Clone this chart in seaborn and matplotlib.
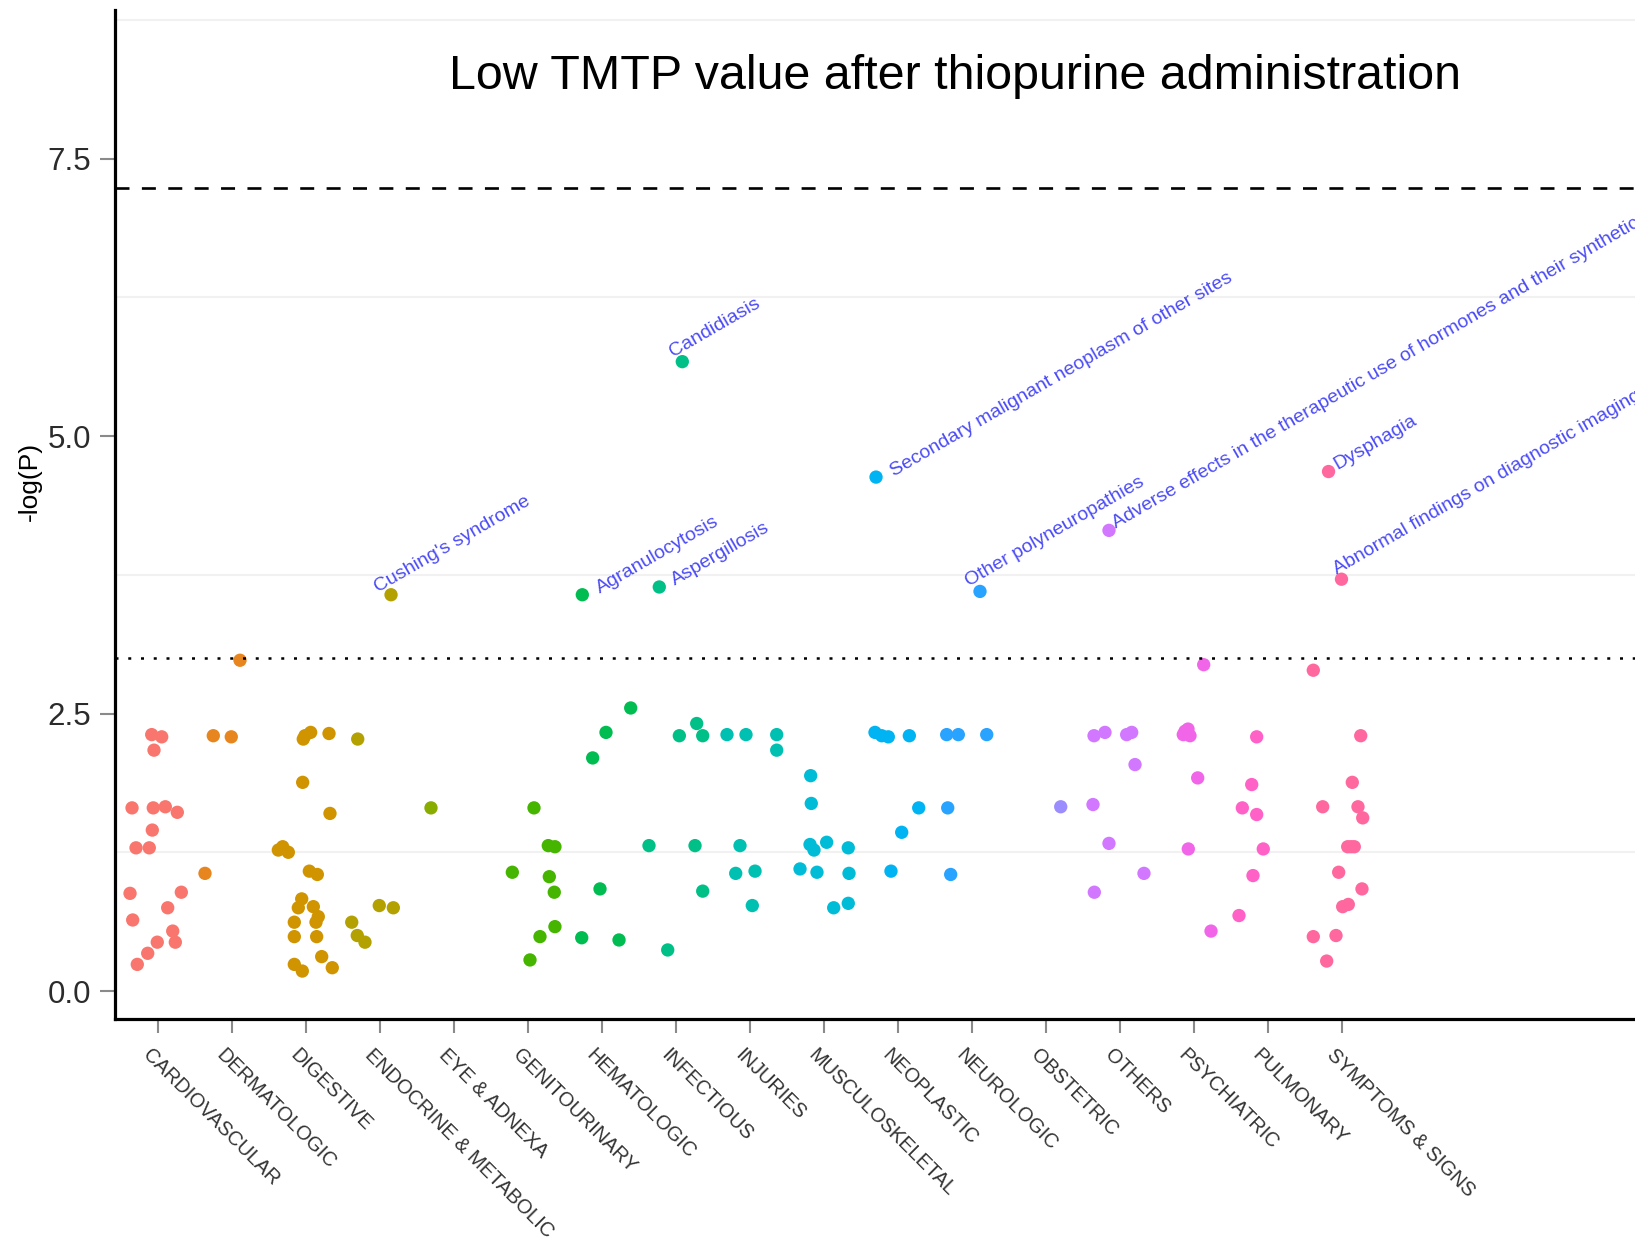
import numpy as np
import pandas as pd
import matplotlib
matplotlib.use("Agg")
import matplotlib.pyplot as plt
import matplotlib.transforms as mtransforms
from matplotlib import font_manager
import seaborn as sns

# ---------------- data ----------------
categories = ["CARDIOVASCULAR", "DERMATOLOGIC", "DIGESTIVE", "ENDOCRINE & METABOLIC",
              "EYE & ADNEXA", "GENITOURINARY", "HEMATOLOGIC", "INFECTIOUS", "INJURIES",
              "MUSCULOSKELETAL", "NEOPLASTIC", "NEUROLOGIC", "OBSTETRIC", "OTHERS",
              "PSYCHIATRIC", "PULMONARY", "SYMPTOMS & SIGNS"]

# position of each phenotype within its category group (category units) and -log(P)
cardio_pos = [-0.089, 0.046, -0.058, -0.355, -0.068, 0.095, 0.257, -0.081, -0.301, -0.122,
              -0.382, 0.311, 0.127, -0.346, 0.195, 0.230, -0.014, -0.143, -0.284]
cardio_val = [2.31, 2.29, 2.17, 1.65, 1.65, 1.66, 1.61, 1.45, 1.29, 1.29,
              0.88, 0.89, 0.75, 0.64, 0.54, 0.44, 0.44, 0.34, 0.24]
derm_pos = [0.104, -0.257, -0.014, -0.369]
derm_val = [2.98, 2.30, 2.29, 1.06]
digest_pos = [-0.041, -0.018, 0.059, 0.307, -0.049, 0.320, -0.378, -0.319, -0.243, 0.041,
              0.149, -0.062, -0.108, 0.095, 0.162, -0.162, 0.131, -0.162, 0.140, 0.208,
              -0.162, -0.054, 0.351]
digest_val = [2.27, 2.30, 2.33, 2.32, 1.88, 1.60, 1.27, 1.30, 1.25, 1.08,
              1.05, 0.83, 0.75, 0.76, 0.67, 0.62, 0.62, 0.49, 0.49, 0.31,
              0.24, 0.18, 0.21]
endo_pos = [-0.305, -0.014, 0.176, -0.386, -0.311, -0.207, 0.145]
endo_val = [2.27, 0.77, 0.75, 0.62, 0.50, 0.44, 3.57]
eye_pos = [-0.315]
eye_val = [1.65]
genito_pos = [-0.216, 0.077, 0.270, 0.360, 0.284, 0.351, 0.360, 0.158, 0.023]
genito_val = [1.07, 1.65, 1.31, 1.30, 1.03, 0.89, 0.58, 0.49, 0.28]
hemat_pos = [0.384, 0.050, -0.130, -0.031, -0.278, 0.226, -0.270]
hemat_val = [2.55, 2.33, 2.10, 0.92, 0.48, 0.46, 3.57]
infect_pos = [0.041, 0.276, 0.357, -0.369, 0.253, 0.357, -0.116, 0.081, -0.230]
infect_val = [2.30, 2.41, 2.30, 1.31, 1.31, 0.90, 0.37, 5.67, 3.64]
injur_pos = [-0.315, -0.058, 0.357, 0.357, -0.139, -0.197, 0.064, 0.027]
injur_val = [2.31, 2.31, 2.31, 2.17, 1.31, 1.06, 1.08, 0.77]
musc_pos = [-0.184, -0.176, -0.193, -0.139, 0.032, 0.324, -0.328, -0.099, 0.334, 0.127, 0.324]
musc_val = [1.94, 1.69, 1.32, 1.27, 1.34, 1.29, 1.10, 1.07, 1.06, 0.75, 0.79]
neopl_pos = [-0.315, -0.224, -0.135, 0.149, 0.276, 0.046, -0.099, -0.301]
neopl_val = [2.33, 2.30, 2.29, 2.30, 1.65, 1.43, 1.08, 4.63]
neuro_pos = [-0.346, -0.189, 0.195, -0.332, -0.292, 0.104]
neuro_val = [2.31, 2.31, 2.31, 1.65, 1.05, 3.60]
obst_pos = [0.195]
obst_val = [1.66]
others_pos = [-0.355, -0.207, 0.086, 0.154, 0.199, -0.369, -0.153, 0.320, -0.351, -0.153]
others_val = [2.30, 2.33, 2.31, 2.33, 2.04, 1.68, 1.33, 1.06, 0.89, 4.15]
psych_pos = [-0.126, -0.085, -0.058, -0.149, 0.127, 0.046, -0.081, 0.226]
psych_val = [2.34, 2.36, 2.30, 2.31, 2.94, 1.92, 1.28, 0.54]
pulm_pos = [-0.157, -0.224, -0.351, -0.157, -0.068, -0.207, -0.396]
pulm_val = [2.29, 1.86, 1.65, 1.59, 1.28, 1.04, 0.68]
sympt_pos = [-0.392, 0.249, 0.135, -0.265, 0.212, 0.276, 0.073, 0.118, 0.162, -0.049,
             0.266, 0.005, 0.081, -0.392, -0.085, -0.211, -0.186, -0.011]
sympt_val = [2.89, 2.30, 1.88, 1.66, 1.66, 1.56, 1.30, 1.30, 1.30, 1.07,
             0.92, 0.76, 0.78, 0.49, 0.50, 0.27, 4.68, 3.71]

group_pos = [cardio_pos, derm_pos, digest_pos, endo_pos, eye_pos, genito_pos, hemat_pos,
             infect_pos, injur_pos, musc_pos, neopl_pos, neuro_pos, obst_pos, others_pos,
             psych_pos, pulm_pos, sympt_pos]
group_val = [cardio_val, derm_val, digest_val, endo_val, eye_val, genito_val, hemat_val,
             infect_val, injur_val, musc_val, neopl_val, neuro_val, obst_val, others_val,
             psych_val, pulm_val, sympt_val]

# labelled phenotypes (category, position in group, -log(P), name)
ann_cat = ["ENDOCRINE & METABOLIC", "HEMATOLOGIC", "INFECTIOUS", "INFECTIOUS", "NEOPLASTIC",
           "NEUROLOGIC", "OTHERS", "SYMPTOMS & SIGNS", "SYMPTOMS & SIGNS"]
ann_pos = [0.145, -0.270, 0.081, -0.230, -0.301, 0.104, -0.153, -0.186, -0.011]
ann_val = [3.57, 3.57, 5.67, 3.64, 4.63, 3.60, 4.15, 4.68, 3.71]
ann_text = ["Cushing's syndrome", "Agranulocytosis", "Candidiasis", "Aspergillosis",
            "Secondary malignant neoplasm of other sites", "Other polyneuropathies",
            "Adverse effects in the therapeutic use of hormones and their synthetic substitutes",
            "Dysphagia", "Abnormal findings on diagnostic imaging"]

suggestive_line = 3.0
significance_line = 7.23
title = "Low TMTP value after thiopurine administration"

# ---------------- palette (ggplot2 hue palette) ----------------
def hcl_hex(h, c=100.0, l=65.0):
    Xn, Yn, Zn = 95.047, 100.0, 108.883
    den = Xn + 15 * Yn + 3 * Zn
    un, vn = 4 * Xn / den, 9 * Yn / den
    hr = np.deg2rad(h)
    U, V = c * np.cos(hr), c * np.sin(hr)
    Y = Yn * ((l + 16) / 116) ** 3
    u = U / (13 * l) + un
    v = V / (13 * l) + vn
    X = Y * 9 * u / (4 * v)
    Z = Y * (12 - 3 * u - 20 * v) / (4 * v)
    M = np.array([[3.2406, -1.5372, -0.4986],
                  [-0.9689, 1.8758, 0.0415],
                  [0.0557, -0.2040, 1.0570]])
    rgb = M @ (np.array([X, Y, Z]) / 100.0)
    rgb = np.where(rgb <= 0.0031308, 12.92 * rgb, 1.055 * np.clip(rgb, 0, None) ** (1 / 2.4) - 0.055)
    rgb = np.clip(rgb, 0, 1)
    return matplotlib.colors.to_hex(rgb)

n = len(categories)
hues = np.linspace(15, 375, n + 1)[:n]
palette = {cat: hcl_hex(h) for cat, h in zip(categories, hues)}

# ---------------- table ----------------
rows = []
for i, (cat, ps, vs) in enumerate(zip(categories, group_pos, group_val)):
    for p, v in zip(ps, vs):
        rows.append({"category": cat, "x": i + p, "logp": v})
df = pd.DataFrame(rows)

# ---------------- figure ----------------
sns.set_style("white")
plt.rcParams["font.family"] = ["Liberation Sans", "DejaVu Sans"]

W, H = 1635, 1241
fig = plt.figure(figsize=(W / 100, H / 100), dpi=100)
ax_left, ax_right, ax_top, ax_bottom = 115, 1635, 10, 1019
ax = fig.add_axes([ax_left / W, 1 - ax_bottom / H, (ax_right - ax_left) / W, (ax_bottom - ax_top) / H])

sns.scatterplot(data=df, x="x", y="logp", hue="category", hue_order=categories,
                palette=palette, s=92, linewidth=0, alpha=1, legend=False, ax=ax, zorder=2)

tick0, step = 158.3, 74.0
ax.set_xlim((ax_left - tick0) / step, (ax_right - tick0) / step)
ax.set_ylim(-0.252, 8.838)

ax.axhline(significance_line, color="black", lw=1.9, dashes=(5.3, 4.7), zorder=3)
ax.axhline(suggestive_line, color="black", lw=1.8, dashes=(1.2, 3.9), zorder=3)

# minor grid
ax.set_yticks([1.25, 3.75, 6.25, 8.75], minor=True)
ax.grid(False)
ax.grid(which="minor", axis="y", color="#f1f1f1", lw=1.5, zorder=0)
ax.tick_params(axis="y", which="minor", length=0)

ax.set_yticks([0.0, 2.5, 5.0, 7.5])
ax.set_yticklabels(["0.0", "2.5", "5.0", "7.5"])
ax.set_xticks(range(n))
ax.set_xticklabels(categories, rotation=-45, ha="left", va="top", rotation_mode="anchor")

ax.tick_params(axis="y", which="major", length=10.8, width=1.5, color="#8a8a8a",
               labelsize=22.5, labelcolor="#2b2b2b", pad=6.5, left=True)
ax.tick_params(axis="x", which="major", length=10.0, width=1.5, color="#8a8a8a",
               labelsize=14.4, labelcolor="#333333", pad=9.0, bottom=True)
shift = mtransforms.ScaledTranslation(-6 / 100, 0, fig.dpi_scale_trans)
for lab in ax.get_xticklabels():
    lab.set_transform(lab.get_transform() + shift)

ax.set_xlabel("")
ax.set_ylabel("")
for side in ["top", "right"]:
    ax.spines[side].set_visible(False)
for side in ["left", "bottom"]:
    ax.spines[side].set_color("black")
    ax.spines[side].set_linewidth(2.3)

# annotations
ann_offsets_px = [(-12.7, 2.6), (17.7, 1.0), (-9.0, 5.0), (15.7, 1.7), (18.0, 0.6),
                  (-11.0, 5.0), (7.5, 1.7), (9.0, 1.7), (-4.0, 4.3)]
for cat, p, v, txt, (dx, dy) in zip(ann_cat, ann_pos, ann_val, ann_text, ann_offsets_px):
    xi = categories.index(cat) + p
    ax.annotate(txt, xy=(xi, v), xytext=(dx * 0.72, dy * 0.72), textcoords="offset points",
                rotation=30, rotation_mode="anchor", ha="left", va="baseline",
                fontsize=14, color="#4b4bf5", zorder=4, annotation_clip=False)

fig.text(30 / W, 1 - 481.7 / H, "-log(P)", rotation=90, ha="center", va="center",
         fontsize=19, color="black")

names = {f.name for f in font_manager.fontManager.ttflist}
if "Liberation Sans Narrow" in names:
    fig.text(957 / W, 1 - 91.7 / H, title, ha="center", va="baseline", fontsize=41,
             family=["Liberation Sans Narrow", "Liberation Sans"], color="black")
else:
    fig.text(955 / W, 1 - 89.0 / H, title, ha="center", va="baseline", fontsize=34.8,
             family=["Liberation Sans", "DejaVu Sans"], color="black")

fig.savefig("out.png", dpi=100)
